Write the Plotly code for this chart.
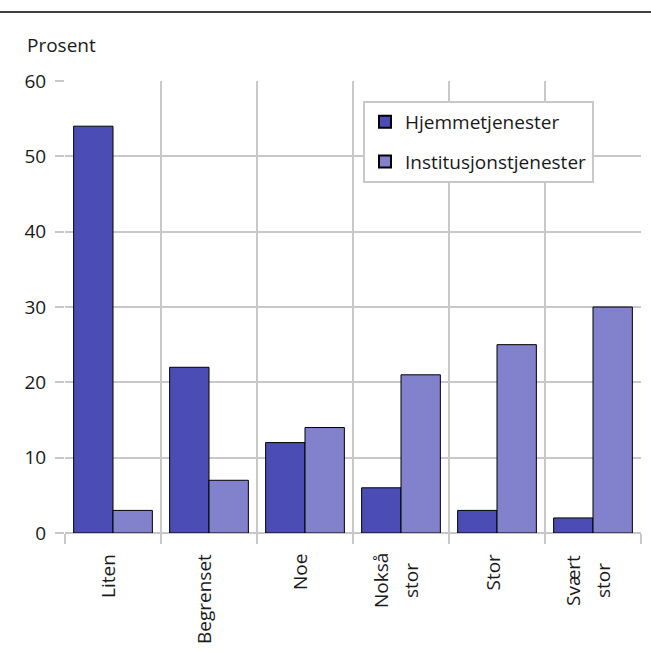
import plotly.graph_objects as go

categories = ["Liten", "Begrenset", "Noe", "Nokså<br>stor", "Stor", "Svært<br>stor"]
hjemme = [54, 22, 12, 6, 3, 2]
institusjon = [3, 7, 14, 21, 25, 30]
y_ticks = [0, 10, 20, 30, 40, 50, 60]

FONT = "Open Sans"
GRID = "#c8c8c8"
TXT = "#1a1a1a"

fig = go.Figure()
fig.add_trace(go.Bar(
    x=categories, y=hjemme, name="Hjemmetjenester",
    marker=dict(color="#4b4db5", line=dict(color="black", width=1)),
    legendgroup="a",
))
fig.add_trace(go.Bar(
    x=categories, y=institusjon, name="Institusjonstjenester",
    marker=dict(color="#8181cc", line=dict(color="black", width=1)),
    legendgroup="b",
))

W, H = 651, 653
L, R, T, B = 65, 10, 81, 120
pw = W - L - R
ph = H - T - B

annotations = [dict(
    text="Prosent", xref="paper", yref="paper",
    x=(25 - L) / pw, y=(533 - 45) / ph, xanchor="left", yanchor="middle",
    showarrow=False, font=dict(family=FONT, size=19, color=TXT),
)]
LINE_GAP = 30
for c in categories:
    lines = c.split("<br>")
    n = len(lines)
    for i, ln in enumerate(lines):
        off = (i - (n - 1) / 2) * LINE_GAP
        if n == 1:
            ya, ys = "top", -19
        else:
            ya, ys = "middle", -48
        annotations.append(dict(
            text=ln, xref="x", yref="paper", x=c, y=0,
            xanchor="center", yanchor=ya, yshift=ys, xshift=-5 + off,
            textangle=-90, showarrow=False,
            font=dict(family=FONT, size=19, color=TXT),
        ))

fig.update_layout(
    width=W, height=H,
    margin=dict(l=L, r=R, t=T, b=B),
    paper_bgcolor="white", plot_bgcolor="white",
    font=dict(family=FONT, size=19, color=TXT),
    barmode="group", bargap=0.18, bargroupgap=0,
    showlegend=True,
    legend=dict(
        x=(363 - L) / pw, y=(533 - 101) / ph, xanchor="left", yanchor="top",
        bgcolor="white", bordercolor=GRID, borderwidth=2,
        font=dict(family=FONT, size=19, color=TXT),
        traceorder="grouped", tracegroupgap=12,
        itemsizing="constant", entrywidth=232, entrywidthmode="pixels",
    ),
    xaxis=dict(
        tickson="boundaries", showgrid=True, gridcolor=GRID, gridwidth=2,
        ticks="outside", ticklen=10, tickcolor=GRID, tickwidth=2,
        showticklabels=False, showline=False, zeroline=False,
    ),
    yaxis=dict(
        range=[0, 60], tickvals=y_ticks, showgrid=True, gridcolor=GRID, gridwidth=2,
        ticks="outside", ticklen=9, tickcolor=GRID, tickwidth=2,
        ticklabelstandoff=5,
        zeroline=True, zerolinecolor=GRID, zerolinewidth=2, showline=False,
        tickfont=dict(family=FONT, size=19, color=TXT),
    ),
    shapes=[dict(
        type="line", xref="paper", yref="paper",
        x0=-L / pw, x1=(W - L) / pw, y0=(533 - 12) / ph, y1=(533 - 12) / ph,
        line=dict(color="black", width=1.5),
    )],
    annotations=annotations,
)

fig.write_html(
    "out.html",
    config={"displayModeBar": False},
    post_script="document.body.style.margin='0';document.body.style.padding='0';",
)
